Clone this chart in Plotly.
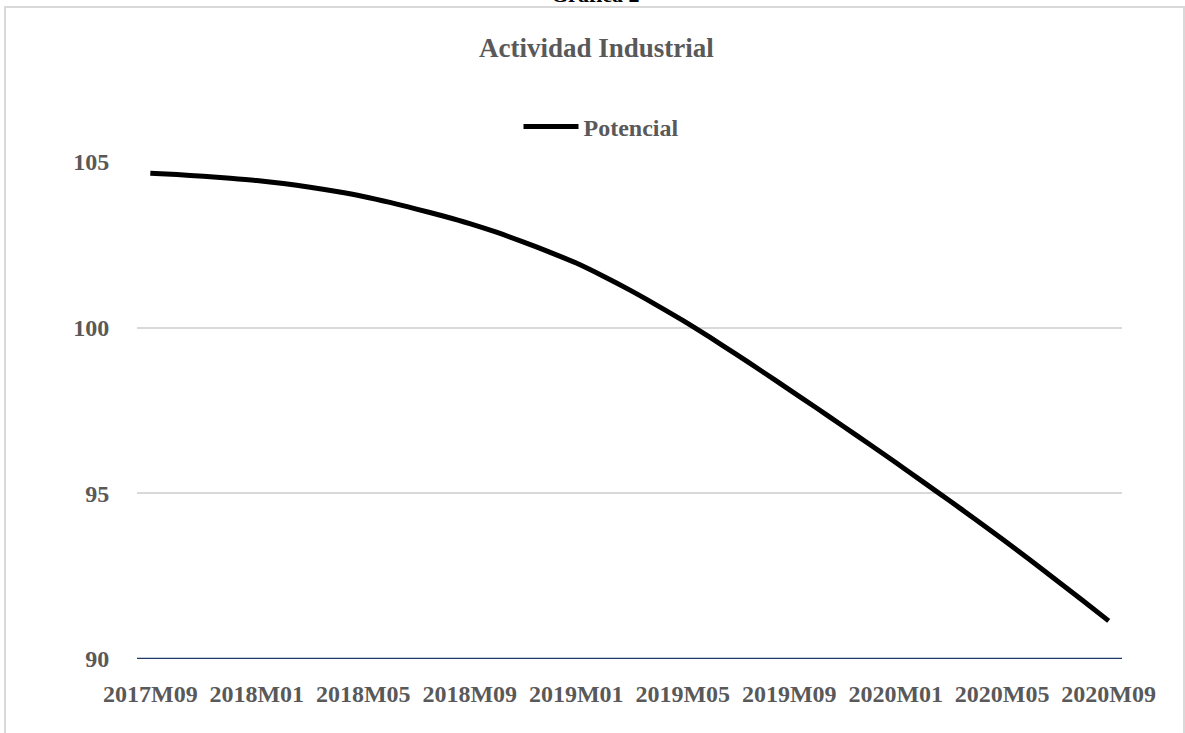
import plotly.graph_objects as go

# Monthly periods, 2017M09 .. 2020M09
periods = [
    "2017M09", "2017M10", "2017M11", "2017M12",
    "2018M01", "2018M02", "2018M03", "2018M04", "2018M05", "2018M06",
    "2018M07", "2018M08", "2018M09", "2018M10", "2018M11", "2018M12",
    "2019M01", "2019M02", "2019M03", "2019M04", "2019M05", "2019M06",
    "2019M07", "2019M08", "2019M09", "2019M10", "2019M11", "2019M12",
    "2020M01", "2020M02", "2020M03", "2020M04", "2020M05", "2020M06",
    "2020M07", "2020M08", "2020M09",
]

# Potential industrial activity index
potencial = [
    104.66, 104.62, 104.57, 104.51,
    104.44, 104.35, 104.24, 104.11, 103.96, 103.78,
    103.58, 103.37, 103.14, 102.88, 102.59, 102.28,
    101.95, 101.56, 101.14, 100.69, 100.22, 99.72,
    99.20, 98.67, 98.13, 97.59, 97.04, 96.49,
    95.93, 95.36, 94.79, 94.21, 93.62, 93.02,
    92.40, 91.78, 91.15,
]

tick_step = 4
tick_idx = list(range(0, len(periods), tick_step))
tick_labels = [periods[i] for i in tick_idx]
y_ticks = [90, 95, 100, 105]

FONT = "Liberation Serif"
GREY = "#595959"

# plot-area geometry in pixels
W, H = 1185, 733
L, R, T, B = 137, 1122, 162, 659


def px_x(p):
    return (p - L) / (R - L)


def px_y(p):
    return (B - p) / (B - T)


fig = go.Figure()
fig.add_trace(go.Scatter(
    x=list(range(len(periods))),
    y=potencial,
    mode="lines",
    name="Potencial",
    line=dict(color="#000000", width=5, shape="spline", smoothing=0.8),
))

fig.update_layout(
    width=W, height=H,
    margin=dict(l=L, r=W - R, t=T, b=H - B),
    paper_bgcolor="white",
    plot_bgcolor="white",
    font=dict(family=FONT, color=GREY),
    showlegend=True,
    legend=dict(
        orientation="h",
        x=px_x(601), y=px_y(127),
        xanchor="center", yanchor="middle",
        font=dict(family=FONT, size=24, color=GREY, weight="bold"),
        itemwidth=55,
    ),
    xaxis=dict(
        range=[-0.5, len(periods) - 0.5],
        tickmode="array",
        tickvals=tick_idx,
        ticktext=tick_labels,
        showgrid=False,
        zeroline=False,
        showline=False,
        ticks="outside", ticklen=13, tickcolor="rgba(0,0,0,0)",
        tickfont=dict(family=FONT, size=24, color=GREY, weight="bold"),
    ),
    yaxis=dict(
        range=[90, 105],
        tickmode="array",
        tickvals=y_ticks,
        showgrid=True,
        gridcolor="#d9d9d9",
        gridwidth=2,
        zeroline=False,
        showline=False,
        ticks="outside", ticklen=22, tickcolor="rgba(0,0,0,0)",
        tickfont=dict(family=FONT, size=24, color=GREY, weight="bold"),
    ),
)

# chart frame
fig.add_shape(
    type="rect", xref="paper", yref="paper",
    x0=px_x(5), x1=px_x(1184), y0=px_y(7), y1=px_y(745),
    line=dict(color="#d9d9d9", width=2), fillcolor="rgba(0,0,0,0)",
    layer="below",
)

# category axis baseline
fig.add_shape(
    type="line", xref="paper", yref="y",
    x0=0, x1=1, y0=90, y1=90,
    line=dict(color="#1f3864", width=2.5),
)

# chart title
fig.add_annotation(
    text="Actividad Industrial",
    xref="paper", yref="paper",
    x=px_x(596), y=px_y(48),
    xanchor="center", yanchor="middle",
    showarrow=False,
    font=dict(family=FONT, size=27, color=GREY, weight="bold"),
)

# figure caption above the frame
fig.add_annotation(
    text="Gráfica 2",
    xref="paper", yref="paper",
    x=px_x(595), y=px_y(-5),
    xanchor="center", yanchor="middle",
    showarrow=False,
    font=dict(family=FONT, size=22, color="#000000", weight="bold"),
)

fig.write_html("out.html")
